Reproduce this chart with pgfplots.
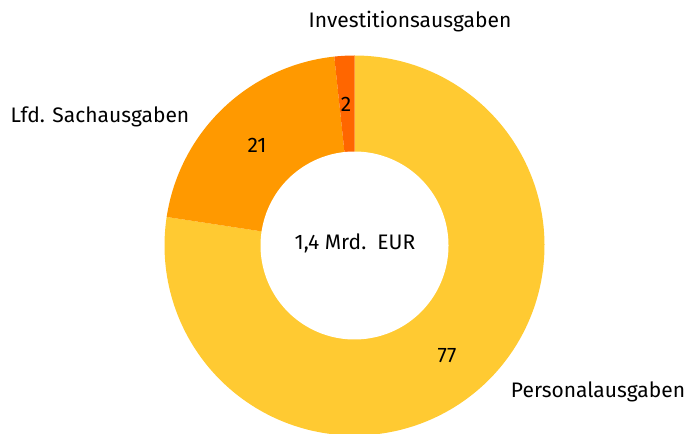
\documentclass[border=0pt]{standalone}
\usepackage{pgfplots}
\pgfplotsset{compat=1.18}
\usepackage{fontspec}
\setmainfont{Fira Sans}
\definecolor{cPers}{HTML}{FFCA32}
\definecolor{cSach}{HTML}{FF9900}
\definecolor{cInv}{HTML}{FF6600}
\tikzset{lbl/.style={font=\fontsize{10.5}{12.5}\selectfont, text=black, inner sep=0pt}}
\begin{document}
\begin{tikzpicture}
% shares in percent (clockwise from top)
\def\vPers{77.4}
\def\vSach{20.9}
\def\vInv{1.7}
\pgfmathsetmacro{\aA}{90}
\pgfmathsetmacro{\aB}{\aA-3.6*\vPers}
\pgfmathsetmacro{\aC}{\aB-3.6*\vSach}
\pgfmathsetmacro{\aD}{\aC-3.6*\vInv}
\def\Ro{190}
\def\Ri{94}
\begin{axis}[hide axis, scale only axis, width=344pt, height=216.5pt,
  xmin=-354.5, xmax=333.5, ymin=-187.5, ymax=245.5, clip=true]
\addplot[fill=cPers, draw=none, domain=\aB:\aA, samples=200, variable=\t]
  ({\Ro*cos(\t)},{\Ro*sin(\t)}) -- (0,0) -- cycle;
\addplot[fill=cSach, draw=none, domain=\aC:\aB, samples=100, variable=\t]
  ({\Ro*cos(\t)},{\Ro*sin(\t)}) -- (0,0) -- cycle;
\addplot[fill=cInv, draw=none, domain=\aD:\aC, samples=20, variable=\t]
  ({\Ro*cos(\t)},{\Ro*sin(\t)}) -- (0,0) -- cycle;
\addplot[fill=white, draw=none, domain=0:360, samples=200, variable=\t]
  ({\Ri*cos(\t)},{\Ri*sin(\t)}) -- cycle;
\node[lbl] at (axis cs:92.5,-110.5) {77};
\node[lbl] at (axis cs:-97.5,100.5) {21};
\node[lbl] at (axis cs:-8.5,141.5) {2};
\node[lbl] at (axis cs:0.5,2.5) {1,4 Mrd.\ \ EUR};
\node[lbl] at (axis cs:55.5,223.5) {Investitionsausgaben};
\node[lbl] at (axis cs:-254.5,128.5) {Lfd. Sachausgaben};
\node[lbl] at (axis cs:243.5,-146.5) {Personalausgaben};
\end{axis}
\pgfresetboundingbox
\useasboundingbox (current axis.south west) rectangle (current axis.north east);
\end{tikzpicture}
\end{document}
